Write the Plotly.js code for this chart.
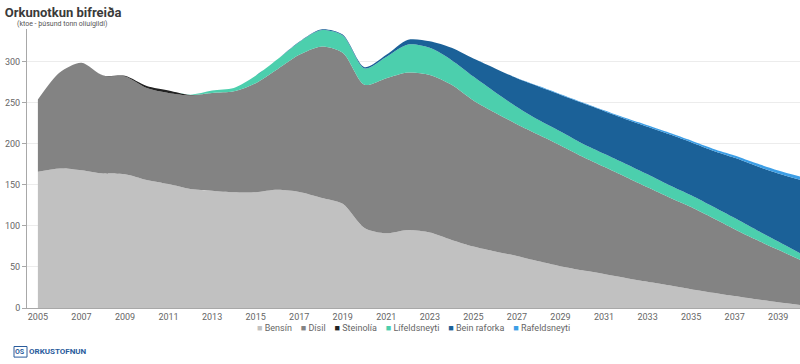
<!DOCTYPE html>
<html>
<head>
<meta charset="utf-8">
<script src="https://cdn.plot.ly/plotly-3.0.1.min.js"></script>
<style>
html,body{margin:0;padding:0;background:#fff;}
#chart{width:800px;height:364px;}
</style>
</head>
<body>
<div id="chart"></div>
<script>
// ---- Data (ktoe) ----
var years = [2005,2006,2007,2008,2009,2010,2011,2012,2013,2014,2015,2016,2017,2018,2019,2020,2021,2022,2023,2024,2025,2026,2027,2028,2029,2030,2031,2032,2033,2034,2035,2036,2037,2038,2039,2040];
var bensin = [166,170,168,164,163,156,151,145,143,141,141,144,141.5,134.5,127,97.5,91,95,92,83,75,69,63.5,57,51,46,41.5,36.6,32,27.7,23,18.7,14.6,10.6,7,3.7];
var disil = [88,117,131,119,119,112,111,114,119,123,133,147,167,184,184,174.5,189,192,192,189,178,169,160.5,154,147,138.5,130.5,123,115,107,100,91,81.5,72.5,64,55];
var steinolia = [0,0,0,0.3,1,2.5,3,0.5,0,0,0,0,0,0,0,0,0,0,0,0,0,0,0,0,0,0,0,0,0,0,0,0,0,0,0,0];
var lifeldsneyti = [0,0,0,0,0,0,0,0.5,3,4,9,12,15.5,20,21,20,26,34,33,30,29,25,21,18,17,16,16,16,16,15,14.5,14,13.5,12,10,8];
var beinRaforka = [0,0,0,0,0,0,0,0,0,0,0,0.2,0.6,1,1.2,1.4,2.5,6,8,15,22,29,35,41,45,49.5,52,54.5,58,62,64.5,68,73.5,78,83,89.5];
var rafeldsneyti = [0,0,0,0,0,0,0,0,0,0,0,0,0,0,0,0,0,0,0,0,0,0,0.2,0.4,0.6,0.8,1.0,1.3,1.6,1.9,2.2,2.5,2.8,3.2,3.6,4];
var seriesNames = ["Bensín","Dísil","Steinolía","Lífeldsneyti","Bein raforka","Rafeldsneyti"];
var seriesColors = ["#c1c1c1","#838383","#222222","#4ccfad","#1b6198","#3c9ee6"];
var yTicks = [0,50,100,150,200,250,300];
var xTicks = [2005,2007,2009,2011,2013,2015,2017,2019,2021,2023,2025,2027,2029,2031,2033,2035,2037,2039];

var seriesValues = [bensin, disil, steinolia, lifeldsneyti, beinRaforka, rafeldsneyti];
var traces = seriesValues.map(function(vals, i){
  return {
    x: years, y: vals, name: seriesNames[i],
    type: 'scatter', mode: 'lines', stackgroup: 'one',
    line: {shape: 'spline', smoothing: 0.8, width: 0, color: seriesColors[i]},
    fillcolor: seriesColors[i],
    showlegend: false, hoverinfo: 'x+y+name'
  };
});

// legend built as real text
var sp = '\u00A0\u00A0\u00A0\u00A0';
var legendText = seriesNames.map(function(n, i){
  return '<span style="color:' + seriesColors[i] + '">\u25A0</span>\u00A0' + n;
}).join(sp);

var layout = {
  width: 800, height: 364,
  margin: {l: 27, r: 0, t: 29, b: 56, pad: 0},
  paper_bgcolor: '#ffffff', plot_bgcolor: '#ffffff',
  font: {family: 'Roboto, Arial, sans-serif', color: '#666666', size: 9},
  title: {
    text: '<b>Orkunotkun bifreiða</b>',
    font: {family: 'Roboto, Arial, sans-serif', size: 13, color: '#3a3a3a'},
    x: 0.006, xref: 'container', xanchor: 'left',
    y: 0.966, yref: 'container', yanchor: 'middle'
  },
  xaxis: {
    range: [2004.5, 2040], tickvals: xTicks, ticktext: xTicks.map(String),
    showgrid: false, zeroline: false, showline: true, linecolor: '#a8a8a8', linewidth: 1,
    ticks: '', tickfont: {size: 9, color: '#666666'}, fixedrange: true
  },
  yaxis: {
    range: [0, 340], tickvals: yTicks, ticktext: yTicks.map(String),
    showgrid: true, gridcolor: '#ececec', gridwidth: 1, zeroline: false,
    showline: true, linecolor: '#a8a8a8', linewidth: 1,
    ticks: 'outside', ticklen: 4, tickcolor: '#a8a8a8',
    tickfont: {size: 9, color: '#666666'}, fixedrange: true
  },
  annotations: [
    {text: '(ktoe - þúsund tonn olíuígildi)', xref: 'paper', yref: 'paper',
     x: -0.016, y: 1.018, xanchor: 'left', yanchor: 'middle', showarrow: false,
     font: {size: 7, color: '#555555'}},
    {text: legendText, xref: 'paper', yref: 'paper', x: 0.5, y: -0.072,
     xanchor: 'center', yanchor: 'middle', showarrow: false,
     font: {size: 9, color: '#666666'}},
    {text: '<b>ORKUSTOFNUN</b>', xref: 'paper', yref: 'paper', x: 0.0, y: -0.157,
     xanchor: 'left', yanchor: 'middle', showarrow: false,
     font: {size: 8, color: '#2a5c9c'}},
    {text: '<b>OS</b>', xref: 'paper', yref: 'paper', x: -0.0085, y: -0.157,
     xanchor: 'center', yanchor: 'middle', showarrow: false,
     font: {size: 7, color: '#2a5c9c'}}
  ],
  shapes: [
    {type: 'rect', xref: 'paper', yref: 'paper', x0: -0.0168, x1: 0.0, y0: -0.138, y1: -0.176,
     line: {color: '#2a5c9c', width: 1}, fillcolor: 'rgba(0,0,0,0)'}
  ]
};

Plotly.newPlot('chart', traces, layout, {displayModeBar: false, staticPlot: true});
</script>
</body>
</html>
